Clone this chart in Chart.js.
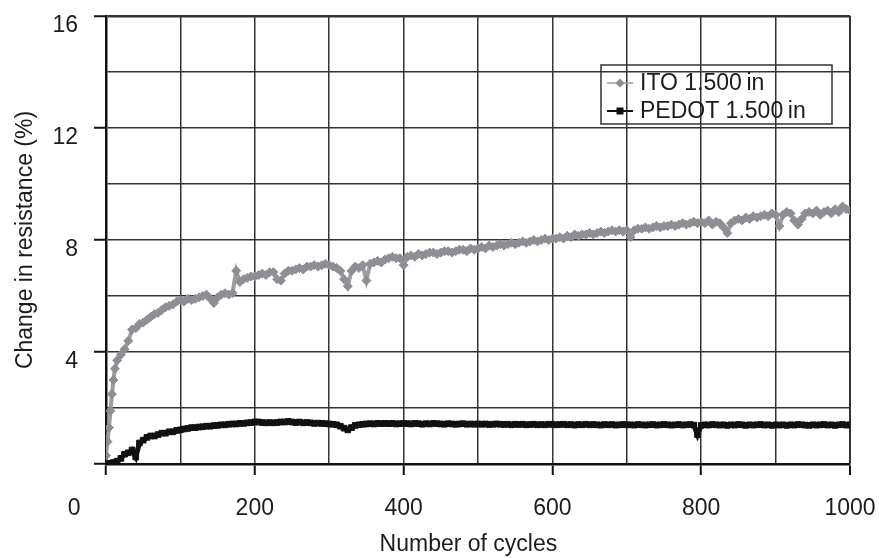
<!DOCTYPE html>
<html>
<head>
<meta charset="utf-8">
<script src="https://cdn.jsdelivr.net/npm/chart.js@4.4.0/dist/chart.umd.min.js"></script>
<style>
  html, body { margin: 0; padding: 0; background: #fff; }
  canvas { display: block; }
</style>
</head>
<body>
<canvas id="resChart" width="879" height="558"></canvas>
<script>
// cycle numbers where the two films were read
const cycles = [
  0, 2, 4, 6, 8, 10, 12, 15, 20, 25, 30, 35, 40, 45, 50, 55, 60, 65, 70, 75, 80, 85, 90, 95, 100,
  105, 110, 115, 120, 125, 130, 135, 140, 145, 150, 155, 160, 165, 170, 175, 180, 185, 190, 195, 200,
  205, 210, 215, 220, 225, 230, 235, 240, 245, 250, 255, 260, 265, 270, 275, 280, 285, 290, 295, 300,
  305, 310, 315, 320, 325, 330, 335, 340, 345, 350, 355, 360, 365, 370, 375, 380, 385, 390, 395, 400,
  405, 410, 415, 420, 425, 430, 435, 440, 445, 450, 455, 460, 465, 470, 475, 480, 485, 490, 495, 500,
  505, 510, 515, 520, 525, 530, 535, 540, 545, 550, 555, 560, 565, 570, 575, 580, 585, 590, 595, 600,
  605, 610, 615, 620, 625, 630, 635, 640, 645, 650, 655, 660, 665, 670, 675, 680, 685, 690, 695, 700,
  705, 710, 715, 720, 725, 730, 735, 740, 745, 750, 755, 760, 765, 770, 775, 780, 785, 790, 795, 800,
  805, 810, 815, 820, 825, 830, 835, 840, 845, 850, 855, 860, 865, 870, 875, 880, 885, 890, 895, 900,
  905, 910, 915, 920, 925, 930, 935, 940, 945, 950, 955, 960, 965, 970, 975, 980, 985, 990, 995, 1000
];

// change in resistance (%)
const itoValues = [
  0.3, 0.8, 1.3, 1.9, 2.5, 3.0, 3.4, 3.7, 3.9, 4.1, 4.4, 4.8, 4.85, 5.0, 5.05, 5.15, 5.25, 5.35, 5.4, 5.5, 5.6, 5.65, 5.7, 5.8, 5.85,
  5.8, 5.9, 5.85, 5.9, 5.95, 6.0, 6.05, 5.9, 5.75, 5.95, 6.05, 6.1, 6.05, 6.1, 6.9, 6.5, 6.6, 6.65, 6.7, 6.7,
  6.75, 6.8, 6.75, 6.85, 6.85, 6.6, 6.55, 6.8, 6.9, 6.9, 6.95, 7.0, 6.95, 7.05, 7.05, 7.1, 7.05, 7.1, 7.15, 7.1,
  7.05, 7.0, 6.9, 6.6, 6.35, 6.9, 7.05, 7.0, 7.1, 6.55, 7.15, 7.2, 7.25, 7.2, 7.3, 7.35, 7.4, 7.35, 7.35, 7.1,
  7.4, 7.45, 7.4, 7.5, 7.45, 7.5, 7.55, 7.55, 7.5, 7.55, 7.6, 7.6, 7.55, 7.6, 7.65, 7.65, 7.6, 7.7, 7.65, 7.7,
  7.75, 7.7, 7.8, 7.75, 7.8, 7.85, 7.8, 7.85, 7.9, 7.85, 7.9, 7.95, 7.9, 7.95, 8.0, 7.95, 8.0, 8.05, 8.0, 8.05,
  8.05, 8.1, 8.05, 8.15, 8.1, 8.2, 8.15, 8.2, 8.2, 8.25, 8.2, 8.25, 8.3, 8.25, 8.3, 8.35, 8.3, 8.35, 8.3, 8.35,
  8.1, 8.35, 8.4, 8.4, 8.45, 8.4, 8.45, 8.5, 8.45, 8.5, 8.5, 8.55, 8.5, 8.55, 8.6, 8.55, 8.6, 8.65, 8.6, 8.65,
  8.6, 8.7, 8.55, 8.65, 8.6, 8.45, 8.25, 8.6, 8.7, 8.75, 8.7, 8.8, 8.75, 8.85, 8.8, 8.85, 8.9, 8.85, 8.95, 8.9,
  8.5, 8.9, 9.0, 8.95, 8.7, 8.55, 8.75, 8.95, 9.0, 8.95, 9.05, 8.9, 9.0, 9.05, 8.95, 9.1, 9.0, 9.2, 9.1, 9.05
];

const pedotValues = [
  0, 0, 0, 0.02, 0.03, 0.05, 0.05, 0.1, 0.2, 0.35, 0.4, 0.5, 0.25, 0.75, 0.85, 0.95, 1.0, 1.0, 1.05, 1.1, 1.1, 1.15, 1.15, 1.2, 1.22,
  1.25, 1.27, 1.3, 1.3, 1.32, 1.33, 1.35, 1.35, 1.37, 1.38, 1.4, 1.4, 1.42, 1.43, 1.43, 1.45, 1.45, 1.47, 1.48, 1.5,
  1.5, 1.48, 1.47, 1.48, 1.47, 1.48, 1.5, 1.5, 1.52, 1.5, 1.48, 1.5, 1.47, 1.48, 1.47, 1.45, 1.46, 1.45, 1.44, 1.43,
  1.42, 1.4, 1.35, 1.28, 1.22, 1.3, 1.38, 1.4, 1.42, 1.43, 1.44, 1.43, 1.45, 1.44, 1.45, 1.44, 1.45, 1.43, 1.44, 1.45,
  1.44, 1.43, 1.45, 1.44, 1.42, 1.44, 1.43, 1.45, 1.44, 1.43, 1.42, 1.44, 1.43, 1.42, 1.43, 1.44, 1.42, 1.43, 1.42, 1.43,
  1.42, 1.43, 1.41, 1.42, 1.43, 1.42, 1.41, 1.42, 1.4, 1.42, 1.41, 1.42, 1.4, 1.41, 1.42, 1.4, 1.41, 1.4, 1.42, 1.41,
  1.4, 1.41, 1.42, 1.4, 1.41, 1.39, 1.41, 1.4, 1.42, 1.4, 1.41, 1.4, 1.39, 1.41, 1.4, 1.41, 1.39, 1.4, 1.41, 1.4,
  1.4, 1.39, 1.41, 1.4, 1.39, 1.4, 1.41, 1.39, 1.4, 1.41, 1.4, 1.39, 1.4, 1.41, 1.39, 1.4, 1.41, 1.39, 1.05, 1.38,
  1.4, 1.39, 1.41, 1.4, 1.39, 1.4, 1.38, 1.4, 1.39, 1.41, 1.4, 1.38, 1.4, 1.39, 1.4, 1.41, 1.39, 1.4, 1.38, 1.4,
  1.39, 1.4, 1.38, 1.4, 1.39, 1.41, 1.4, 1.39, 1.38, 1.4, 1.39, 1.4, 1.41, 1.39, 1.4, 1.38, 1.4, 1.41, 1.39, 1.4
];

const seriesNames = ['ITO 1.500\u2009in', 'PEDOT 1.500\u2009in'];
const xLabels = [0, 200, 400, 600, 800, 1000];
const yLabels = [4, 8, 12, 16];

const FONT = 'Liberation Sans, Arial, Helvetica, sans-serif';
const FSIZE = 23;
const INK = '#1c1c1c';

function toPoints(values) {
  return values.map((v, i) => ({ x: cycles[i], y: v }));
}

// legend sits inside the plot, framed, no fill (grid shows through)
const boxLegend = {
  id: 'boxLegend',
  afterDatasetsDraw(chart) {
    const ctx = chart.ctx;
    const x0 = 601, y0 = 65, w = 231, h = 59;
    ctx.save();
    ctx.strokeStyle = '#333';
    ctx.lineWidth = 1.5;
    ctx.strokeRect(x0, y0, w, h);
    chart.data.datasets.forEach((ds, i) => {
      const y = y0 + 18 + i * 28;
      ctx.strokeStyle = ds.borderColor;
      ctx.lineWidth = i ? 2 : 1.5;
      ctx.beginPath();
      ctx.moveTo(x0 + 6, y);
      ctx.lineTo(x0 + 32, y);
      ctx.stroke();
      ctx.fillStyle = ds.backgroundColor;
      ctx.beginPath();
      if (ds.pointStyle === 'rectRot') {
        ctx.moveTo(x0 + 19, y - 4.5);
        ctx.lineTo(x0 + 23.5, y);
        ctx.lineTo(x0 + 19, y + 4.5);
        ctx.lineTo(x0 + 14.5, y);
        ctx.closePath();
      } else {
        ctx.rect(x0 + 15.5, y - 3.5, 7, 7);
      }
      ctx.fill();
      ctx.fillStyle = INK;
      ctx.font = FSIZE + 'px ' + FONT;
      ctx.textBaseline = 'middle';
      ctx.textAlign = 'left';
      ctx.fillText(ds.label, x0 + 39, y + 1);
    });
    ctx.restore();
  }
};

const data = {
  datasets: [
    {
      label: seriesNames[0],
      data: toPoints(itoValues),
      borderColor: '#9c9ca1',
      backgroundColor: '#8e8e94',
      pointBorderColor: '#8e8e94',
      pointStyle: 'rectRot',
      pointRadius: 4.5,
      pointBorderWidth: 1,
      borderWidth: 4,
      tension: 0
    },
    {
      label: seriesNames[1],
      data: toPoints(pedotValues),
      borderColor: '#111',
      backgroundColor: '#111',
      pointStyle: 'rect',
      pointRadius: 4,
      pointBorderWidth: 1,
      borderWidth: 5,
      tension: 0
    }
  ]
};

const config = {
  type: 'line',
  data: data,
  plugins: [boxLegend],
  options: {
    responsive: false,
    animation: false,
    layout: { padding: { left: 0, top: 16, right: 29, bottom: 0 } },
    plugins: {
      legend: { display: false },
      tooltip: { enabled: false }
    },
    scales: {
      x: {
        type: 'linear',
        min: 0,
        max: 1000,
        afterFit: (scale) => {
          scale.height = 94;
          scale.paddingLeft = 0;
          scale.paddingRight = 0;
        },
        ticks: {
          stepSize: 100,
          autoSkip: false,
          maxRotation: 0,
          padding: 20,
          color: INK,
          font: { family: FONT, size: FSIZE },
          // the "0" sits left of its tick in the original
          callback: (v) => xLabels.includes(v) ? (v === 0 ? '0' + '\u00a0'.repeat(10) : String(v)) : ''
        },
        grid: {
          color: '#333',
          lineWidth: (c) => (c.tick && c.tick.value === 1000 ? 2 : 1.5),
          tickLength: 11,
          tickWidth: 2,
          tickColor: (c) => (c.tick && xLabels.includes(c.tick.value) ? '#111' : 'rgba(0,0,0,0)')
        },
        border: { color: '#111', width: 2.5 },
        title: {
          display: true,
          text: 'Number of cycles\u00a0\u00a0\u00a0',
          color: INK,
          font: { family: FONT, size: FSIZE },
          padding: { top: 0, bottom: 0 }
        }
      },
      y: {
        min: 0,
        max: 16,
        afterFit: (scale) => {
          scale.width = 106;
          scale.paddingTop = 0;
          scale.paddingBottom = 0;
        },
        ticks: {
          stepSize: 2,
          autoSkip: false,
          padding: 16,
          labelOffset: 10,
          color: INK,
          font: { family: FONT, size: FSIZE },
          callback: (v) => yLabels.includes(v) ? String(v) : ''
        },
        grid: {
          color: '#333',
          lineWidth: (c) => (c.tick && c.tick.value === 16 ? 2.5 : 1.5),
          tickLength: 12,
          tickWidth: 2,
          tickColor: (c) => (c.tick && (c.tick.value % 4 === 0) ? '#111' : 'rgba(0,0,0,0)')
        },
        border: { color: '#111', width: 2.5 },
        title: {
          display: true,
          text: 'Change in resistance (%)',
          color: INK,
          font: { family: FONT, size: FSIZE },
          padding: { top: 12, bottom: 0 }
        }
      }
    }
  }
};

const myChart = document.getElementById('resChart');

new Chart(myChart, config);
</script>
</body>
</html>
